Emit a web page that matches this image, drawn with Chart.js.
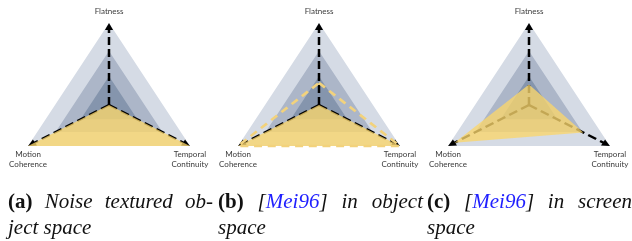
<!doctype html>
<html lang="en">

<head>
    <meta charset="utf-8">
    <title>Radar comparison</title>
    <style>
        * {
            margin: 0;
            padding: 0;
        }

        body {
            width: 632px;
            height: 241px;
            background: #fff;
            position: relative;
            overflow: hidden;
        }

        .chartBox {
            position: absolute;
            top: 0;
            width: 211px;
            height: 200px;
        }

        .caption {
            position: absolute;
            top: 188px;
            width: 205px;
            font-family: 'Liberation Serif', serif;
            font-size: 21px;
            line-height: 26px;
            font-style: italic;
            color: #111;
        }

        .caption .first {
            text-align: justify;
            text-align-last: justify;
        }

        .caption b {
            font-style: normal;
        }

        .cite {
            color: #1f1fff;
        }
    </style>
</head>

<body>
    <div class="chartBox" style="left:0px"><canvas id="chartA" width="211" height="200"></canvas></div>
    <div class="chartBox" style="left:210px"><canvas id="chartB" width="211" height="200"></canvas></div>
    <div class="chartBox" style="left:420px"><canvas id="chartC" width="211" height="200"></canvas></div>

    <div class="caption" style="left:8px">
        <div class="first"><b>(a)</b> Noise textured ob-</div>
        <div>ject space</div>
    </div>
    <div class="caption" style="left:218px">
        <div class="first"><b>(b)</b> [<span class="cite">Mei96</span>] in object</div>
        <div>space</div>
    </div>
    <div class="caption" style="left:427px">
        <div class="first"><b>(c)</b> [<span class="cite">Mei96</span>] in screen</div>
        <div>space</div>
    </div>

    <script src="https://cdn.jsdelivr.net/npm/chart.js"></script>
    <script>
        // axes and values (0 = centre, 1 = tip)
        const axisLabels = ['Flatness', ['Temporal', 'Continuity'], ['Motion', 'Coherence']]
        const ringLevels = [0.35, 0.66, 1]
        const ringColors = ['#8595ad', '#acb6c8', '#d5dbe5']
        const noiseObject = [0, 1, 1]
        const meiObject = [0, 1, 1]
        const meiObjectOutline = [0.27, 1, 1]
        const meiScreen = [0.25, 0.67, 0.92]

        const STRETCH = 1.14   // the triangles are wider than equilateral
        const yellowFill = 'rgba(250, 214, 108, 0.78)'

        function ringDatasets() {
            return ringLevels.map((lvl, i) => ({
                data: axisLabels.map(() => lvl),
                backgroundColor: ringColors[i],
                borderWidth: 0,
                fill: 'start',
                axesAfter: i === 0
            }))
        }

        function drawAxes(chart) {
            const r = chart.scales.r
            const ctx = chart.ctx
            const n = axisLabels.length
            ctx.save()
            ctx.strokeStyle = '#000'
            ctx.lineWidth = 2.2
            ctx.setLineDash([8, 4])
            for (let i = 0; i < n; i++) {
                const end = r.getPointPositionForValue(i, r.max * 0.95)
                ctx.beginPath()
                ctx.moveTo(r.xCenter, r.yCenter)
                ctx.lineTo(end.x, end.y)
                ctx.stroke()
            }
            ctx.setLineDash([])
            ctx.fillStyle = '#000'
            for (let i = 0; i < n; i++) {
                const tip = r.getPointPositionForValue(i, r.max)
                const a = tip.angle
                const len = 7, half = 3.6
                const bx = tip.x - Math.cos(a) * len
                const by = tip.y - Math.sin(a) * len
                ctx.beginPath()
                ctx.moveTo(tip.x, tip.y)
                ctx.lineTo(bx - Math.sin(a) * half, by + Math.cos(a) * half)
                ctx.lineTo(bx + Math.sin(a) * half, by - Math.cos(a) * half)
                ctx.closePath()
                ctx.fill()
            }
            ctx.restore()
        }

        const stretchPlugin = {
            id: 'stretch',
            beforeDatasetsDraw(chart) {
                const { ctx } = chart
                const cx = chart.scales.r.xCenter
                ctx.save()
                ctx.translate(cx, 0)
                ctx.scale(STRETCH, 1)
                ctx.translate(-cx, 0)
            },
            afterDatasetDraw(chart, args) {
                if (chart.data.datasets[args.index].axesAfter) drawAxes(chart)
            },
            afterDatasetsDraw(chart) {
                chart.ctx.restore()
            },
            afterDraw(chart) {
                const r = chart.scales.r
                const ctx = chart.ctx
                ctx.save()
                ctx.font = '8px Lato'
                ctx.fillStyle = '#3a3a3a'
                ctx.textAlign = 'center'
                ctx.textBaseline = 'middle'
                chart.data.labels.forEach((label, i) => {
                    const p = r.getPointPositionForValue(i, r.max)
                    const x = r.xCenter + (p.x - r.xCenter) * STRETCH
                    const lines = [].concat(label)
                    const y0 = i === 0 ? p.y - 12 : p.y + 8
                    lines.forEach((t, k) => ctx.fillText(t, x, y0 + k * 10))
                })
                ctx.restore()
            }
        }

        function makeChart(id, front) {
            return new Chart(document.getElementById(id), {
                type: 'radar',
                data: {
                    labels: axisLabels,
                    datasets: front.concat(ringDatasets())
                },
                options: {
                    responsive: false,
                    animation: false,
                    events: [],
                    layout: { padding: { left: 27, right: 20, top: 10, bottom: 0 } },
                    elements: {
                        point: { radius: 0, hoverRadius: 0 },
                        line: { tension: 0 }
                    },
                    datasets: { radar: { clip: false } },
                    plugins: { legend: { display: false }, tooltip: { enabled: false } },
                    scales: {
                        r: {
                            min: 0,
                            max: 1,
                            ticks: { display: false },
                            grid: { display: false },
                            angleLines: { display: false },
                            pointLabels: { display: false }
                        }
                    }
                },
                plugins: [stretchPlugin]
            })
        }

        makeChart('chartA', [
            { data: noiseObject, backgroundColor: yellowFill, borderWidth: 0, fill: 'start' }
        ])

        makeChart('chartB', [
            { data: meiObjectOutline, borderColor: '#f2d27c', borderWidth: 2.5, borderDash: [7, 5], fill: false },
            { data: meiObject, backgroundColor: yellowFill, borderWidth: 0, fill: 'start' }
        ])

        makeChart('chartC', [
            { data: meiScreen, backgroundColor: yellowFill, borderWidth: 0, fill: 'start' }
        ])
    </script>
</body>

</html>
